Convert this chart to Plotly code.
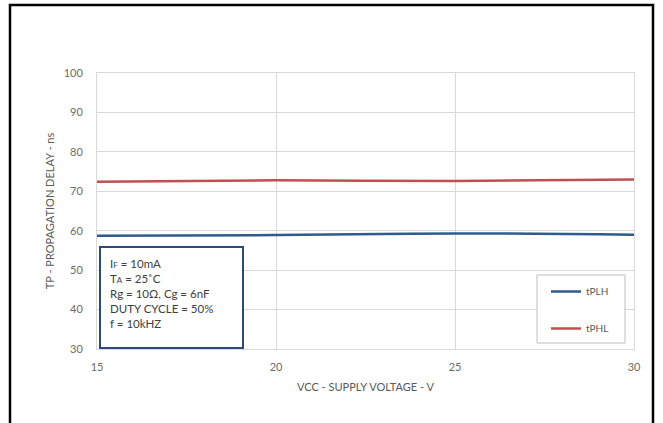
import plotly.graph_objects as go

vcc = [15, 20, 25, 30]
tplh = [58.7, 58.9, 59.3, 59.0]
tphl = [72.4, 72.8, 72.6, 73.0]
x_ticks = [15, 20, 25, 30]
y_ticks = [30, 40, 50, 60, 70, 80, 90, 100]
cond_lines = ["I<span style='font-size:8px'>F</span> = 10mA",
              "T<span style='font-size:8px'>A</span> = 25˚C",
              "Rg = 10Ω, Cg = 6nF",
              "DUTY CYCLE = 50%",
              "f = 10kHZ"]

FONT = "Lato, 'Open Sans', sans-serif"
W, H = 663, 423
L, R, T, B = 97, 29, 73, 74
pw, ph = W - L - R, H - T - B

def px(x):
    return (x - L) / pw

def py(y):
    return (H - B - y) / ph

fig = go.Figure()
fig.add_trace(go.Scatter(x=vcc, y=tplh, name="tPLH", mode="lines", legendgroup="a",
                         line=dict(color="#2E5A8E", width=2.5, shape="spline")))
fig.add_trace(go.Scatter(x=vcc, y=tphl, name="tPHL", mode="lines", legendgroup="b",
                         line=dict(color="#C0504D", width=2.5, shape="spline")))

fig.update_layout(
    width=W, height=H,
    margin=dict(l=L, r=R, t=T, b=B),
    paper_bgcolor="white", plot_bgcolor="white",
    font=dict(family=FONT, size=11, color="#595959"),
    showlegend=True,
    legend=dict(x=px(546), y=py(277), xanchor="left", yanchor="top",
                borderwidth=0, bgcolor="rgba(0,0,0,0)",
                font=dict(size=10, color="#595959"), tracegroupgap=18,
                itemwidth=30),
    xaxis=dict(range=[15, 30], tickvals=x_ticks, showgrid=True, gridcolor="#D9D9D9",
               showline=True, linecolor="#D9D9D9", mirror=True, zeroline=False,
               ticks="outside", ticklen=8, tickcolor="rgba(0,0,0,0)",
               tickfont=dict(size=11, color="#6b6b6b"),
               title=dict(text="VCC - SUPPLY VOLTAGE - V", font=dict(size=11, color="#595959"), standoff=11)),
    yaxis=dict(range=[30, 100], tickvals=y_ticks, showgrid=True, gridcolor="#D9D9D9",
               showline=True, linecolor="#D9D9D9", mirror=True, zeroline=False,
               ticks="outside", ticklen=11, tickcolor="rgba(0,0,0,0)",
               tickfont=dict(size=11, color="#6b6b6b"),
               title=dict(text="TP - PROPAGATION DELAY - ns", font=dict(size=11, color="#595959"), standoff=6)),
)

# outer frame
fig.add_shape(type="rect", xref="paper", yref="paper",
              x0=px(10), x1=px(653), y0=py(440), y1=py(5),
              line=dict(color="black", width=2.5), layer="below")
# legend frame
fig.add_shape(type="rect", xref="paper", yref="paper",
              x0=px(537), x1=px(625), y0=py(343), y1=py(275),
              line=dict(color="#BFBFBF", width=1), fillcolor="white", layer="above")
# conditions box
fig.add_shape(type="rect", xref="paper", yref="paper",
              x0=px(100), x1=px(243), y0=py(348), y1=py(247),
              line=dict(color="#2E4A7A", width=2), fillcolor="white", layer="above")
fig.add_annotation(xref="paper", yref="paper", x=px(108), y=py(293),
                   xanchor="left", yanchor="middle", align="left", showarrow=False,
                   text="<br>".join(cond_lines),
                   font=dict(family=FONT, size=11.5, color="#404040"))

fig.write_html("out.html", config={"displayModeBar": False},
               post_script="document.body.style.margin='0px';document.body.style.overflow='hidden';")
